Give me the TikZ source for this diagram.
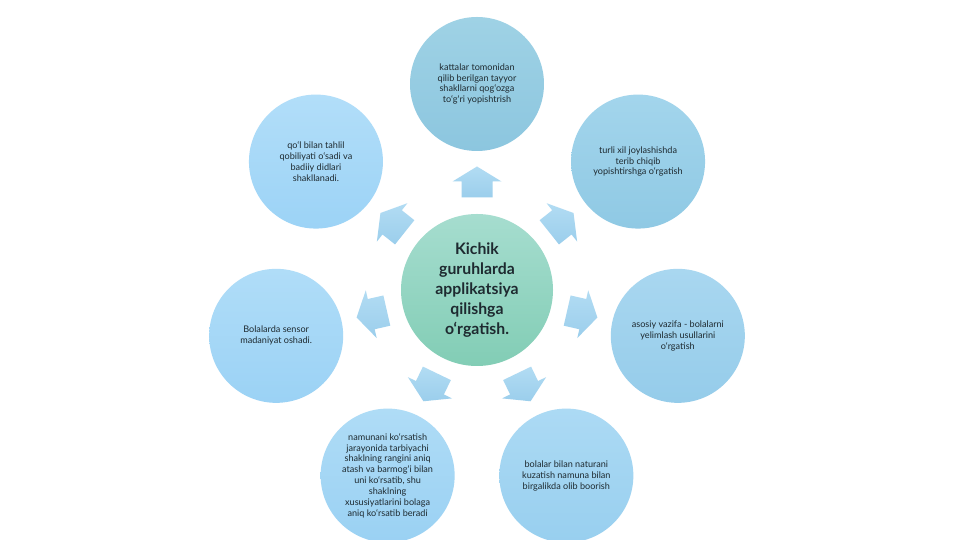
\documentclass[tikz,border=0pt]{standalone}
\usepackage{fontspec}
\setmainfont{Lato}
\usetikzlibrary{calc}
\definecolor{cenA}{HTML}{A6DDCF}
\definecolor{cenB}{HTML}{82CDB5}
\definecolor{arrA}{HTML}{B2DCF3}
\definecolor{arrB}{HTML}{9BCEEC}
\definecolor{txt}{HTML}{1E2A30}
\definecolor{c0a}{HTML}{9FD2E5}\definecolor{c0b}{HTML}{8CC6DF}
\definecolor{c1a}{HTML}{A3D5EC}\definecolor{c1b}{HTML}{8FC9E4}
\definecolor{c2a}{HTML}{A9D7F0}\definecolor{c2b}{HTML}{95CCEA}
\definecolor{c3a}{HTML}{ACDAF4}\definecolor{c3b}{HTML}{98CFEF}
\definecolor{c4a}{HTML}{AFDCF6}\definecolor{c4b}{HTML}{9AD1F3}
\definecolor{c5a}{HTML}{B0DDF8}\definecolor{c5b}{HTML}{9BD2F5}
\definecolor{c6a}{HTML}{B2DEF9}\definecolor{c6b}{HTML}{9CD3F6}
\tikzset{
  x=1pt,y=1pt,
  outer/.style={circle,minimum size=134pt,inner sep=0pt,align=center,
    text=txt,font=\fontsize{9.1}{10.9}\selectfont},
  center/.style={circle,minimum size=152pt,inner sep=0pt,align=center,
    text=txt,font=\fontsize{15.8}{20}\selectfont\bfseries,top color=cenA,bottom color=cenB},
  blockarrow/.style={top color=arrA,bottom color=arrB,draw=none},
}
\begin{document}
\begin{tikzpicture}
\useasboundingbox (0,0) rectangle (961,540);
\fill[white] (0,0) rectangle (961,540);
\coordinate (C) at (477,250);
\node[center] (mid) at (C) {Kichik\\guruhlarda\\applikatsiya\\qilishga\\o‘rgatish.};
% outer circles
\node[outer,top color=c0a,bottom color=c0b] (n0) at ($(C)+(90:206)$) {kattalar tomonidan\\qilib berilgan tayyor\\shakllarni qog‘ozga\\to‘g‘ri yopishtrish};
\node[outer,top color=c1a,bottom color=c1b] (n1) at ($(C)+(38.57:206)$) {turli xil joylashishda\\terib chiqib\\yopishtirshga o‘rgatish};
\node[outer,top color=c2a,bottom color=c2b] (n2) at ($(C)+(-12.86:206)$) {asosiy vazifa - bolalarni\\yelimlash usullarini\\o‘rgatish};
\node[outer,top color=c3a,bottom color=c3b] (n3) at ($(C)+(-64.29:206)$) {bolalar bilan naturani\\kuzatish namuna bilan\\birgalikda olib boorish};
\node[outer,top color=c4a,bottom color=c4b] (n4) at ($(C)+(-115.71:206)$) {namunani ko‘rsatish\\jarayonida tarbiyachi\\shaklning rangini aniq\\atash va barmog‘i bilan\\uni ko‘rsatib, shu\\shaklning\\xususiyatlarini bolaga\\aniq ko‘rsatib beradi};
\node[outer,top color=c5a,bottom color=c5b] (n5) at ($(C)+(-167.14:206)$) {Bolalarda sensor\\madaniyat oshadi.};
\node[outer,top color=c6a,bottom color=c6b] (n6) at ($(C)+(141.43:206)$) {qo‘l bilan tahlil\\qobiliyati o‘sadi va\\badiiy didlari\\shakllanadi.};
% block arrows
\foreach \a in {90,38.57,-12.86,-64.29,-115.71,-167.14,141.43}{
  \begin{scope}[shift={($(C)+(\a:108)$)},rotate=\a]
    \path[blockarrow] (-15.5,-15.5) -- (0.5,-15.5) -- (0.5,-24.5) -- (15.5,0)
      -- (0.5,24.5) -- (0.5,15.5) -- (-15.5,15.5) -- cycle;
  \end{scope}
}
\end{tikzpicture}
\end{document}
